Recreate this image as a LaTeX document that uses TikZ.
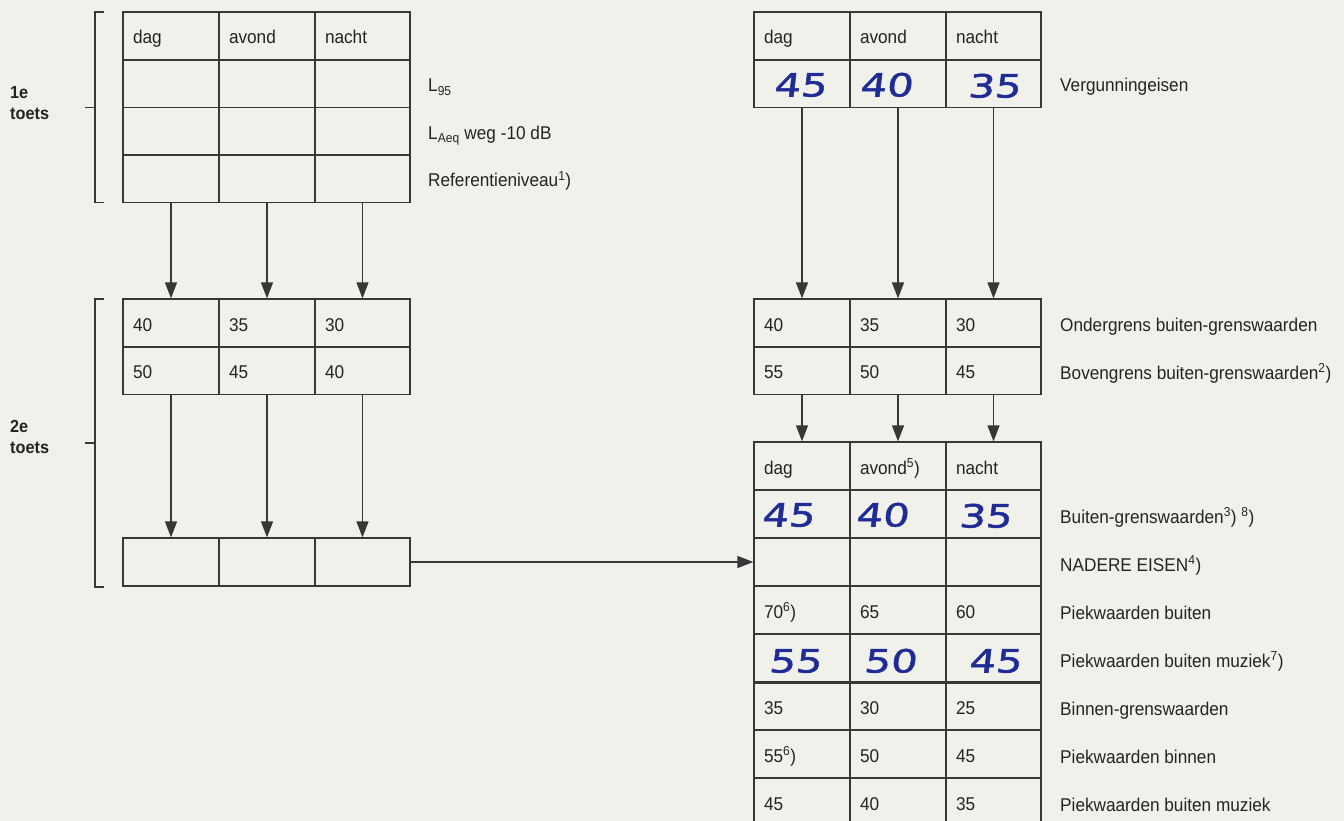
\documentclass[tikz,border=0pt]{standalone}
\usepackage{fontspec}
\usetikzlibrary{arrows.meta}
\newfontfamily\lab{Liberation Sans}[FakeStretch=0.93]
\newfontfamily\hand{DejaVu Sans}[FakeStretch=1.3, FakeSlant=0.12, FakeBold=1.6]
\definecolor{paper}{RGB}{241,241,236}
\definecolor{ink}{RGB}{55,55,55}
\definecolor{txt}{RGB}{35,35,35}
\definecolor{pen}{RGB}{32,44,150}
\tikzset{
  cell/.style={draw=ink, line width=1.2pt, inner xsep=10pt, inner ysep=0pt, align=left,
    font=\lab\fontsize{18.5}{22}\selectfont, text=txt, text height=16pt, text depth=0pt},
  handtxt/.style={font=\hand\fontsize{32}{32}\selectfont, text=pen, inner sep=0pt,
    text height=23pt, text depth=0pt},
  lbl/.style={anchor=base west, inner sep=0pt, font=\lab\fontsize{18.5}{22}\selectfont, text=txt},
  toets/.style={anchor=west, inner sep=0pt, align=left, font=\lab\bfseries\fontsize{17.5}{22}\selectfont, text=txt},
  arr/.style={draw=ink, line width=1.2pt, -{Triangle[length=16pt,width=12pt]}},
  brk/.style={draw=ink, line width=1.2pt}
}
% #1 name prefix, #2 left x, #3 top y, #4 bottom y, #5-#7 texts
\newcommand\mkrow[7]{%
  \pgfmathsetmacro\rh{#4-#3}%
  \pgfmathsetmacro\ym{(#3+#4)/2}%
  \node[cell, minimum width=96pt, text width=76pt, minimum height=\rh pt] (#1-1) at (#2+48,\ym) {#5};
  \node[cell, minimum width=96pt, text width=76pt, minimum height=\rh pt] (#1-2) at (#2+144,\ym) {#6};
  \node[cell, minimum width=95pt, text width=75pt, minimum height=\rh pt] (#1-3) at (#2+239.5,\ym) {#7};
}
\begin{document}
\begin{tikzpicture}[x=1pt,y=-1pt]
\fill[paper] (0,0) rectangle (1344,821);
\useasboundingbox (0,0) rectangle (1344,821);

% ---------- left: 1e toets ----------
\mkrow{T1r1}{123}{12}{60}{dag}{avond}{nacht}
\mkrow{T1r2}{123}{60}{107.5}{}{}{}
\mkrow{T1r3}{123}{107.5}{155}{}{}{}
\mkrow{T1r4}{123}{155}{202.5}{}{}{}

\node[lbl] (l95) at (428,92) {L\textsubscript{95}};
\node[lbl] (laeq) at (428,140) {L\textsubscript{Aeq} weg -10 dB};
\node[lbl] (lref) at (428,187) {Referentieniveau\textsuperscript{1})};

% ---------- left: 2e toets ----------
\mkrow{T2r1}{123}{299}{347}{40}{35}{30}
\mkrow{T2r2}{123}{347}{394.5}{50}{45}{40}
\mkrow{T3r1}{123}{538}{586}{}{}{}

% brackets
\draw[brk] (104,12) -- (95,12) -- (95,202.5) -- (104,202.5);
\draw[brk] (85,107.5) -- (95,107.5);
\draw[brk] (104,299) -- (95,299) -- (95,587) -- (104,587);
\draw[brk] (85,443) -- (95,443);
\node[toets] (t1) at (10,103) {1e\\[-1pt]toets};
\node[toets] (t2) at (10,437) {2e\\[-1pt]toets};

% ---------- right tables ----------
\mkrow{R1r1}{754}{12}{60}{dag}{avond}{nacht}
\mkrow{R1r2}{754}{60}{107.5}{}{}{}
\node[lbl] (vg) at (1060,92) {Vergunningeisen};

\mkrow{R2r1}{754}{299}{347}{40}{35}{30}
\mkrow{R2r2}{754}{347}{394.5}{55}{50}{45}
\node[lbl] (og) at (1060,331) {Ondergrens buiten-grenswaarden};
\node[lbl] (bg) at (1060,379) {Bovengrens buiten-grenswaarden\textsuperscript{2})};

\mkrow{R3r1}{754}{442}{490}{dag}{avond\textsuperscript{5})}{nacht}
\mkrow{R3r2}{754}{490}{538}{}{}{}
\mkrow{R3r3}{754}{538}{586}{}{}{}
\mkrow{R3r4}{754}{586}{634}{70\textsuperscript{6})}{65}{60}
\mkrow{R3r5}{754}{634}{682}{}{}{}
\mkrow{R3r6}{754}{682}{730}{35}{30}{25}
\mkrow{R3r7}{754}{730}{778}{55\textsuperscript{6})}{50}{45}
\mkrow{R3r8}{754}{778}{826}{45}{40}{35}
\draw[ink, line width=2.8pt] (R3r5-1.south west) -- (R3r5-3.south east);

\node[lbl] (bu) at (1060,523) {Buiten-grenswaarden\textsuperscript{3}) \textsuperscript{8})};
\node[lbl] (ne) at (1060,571) {NADERE EISEN\textsuperscript{4})};
\node[lbl] (pb) at (1060,619) {Piekwaarden buiten};
\node[lbl] (pbm) at (1060,667) {Piekwaarden buiten muziek\textsuperscript{7})};
\node[lbl] (bi) at (1060,715) {Binnen-grenswaarden};
\node[lbl] (pbi) at (1060,763) {Piekwaarden binnen};
\node[lbl] (pbm2) at (1060,811) {Piekwaarden buiten muziek};

% handwritten values
\node[handtxt] (h11) at (800,85) {45};
\node[handtxt] (h12) at (886,85) {40};
\node[handtxt] (h13) at (994,86) {35};
\node[handtxt] (h21) at (788,515) {45};
\node[handtxt] (h22) at (882,515) {40};
\node[handtxt] (h23) at (985,516) {35};
\node[handtxt] (h31) at (795,661) {55};
\node[handtxt] (h32) at (890,661) {50};
\node[handtxt] (h33) at (995,661) {45};

% ---------- connectors ----------
\foreach \c in {1,2,3} {
  \draw[arr] (T1r4-\c.south) -- (T2r1-\c.north);
  \draw[arr] (T2r2-\c.south) -- (T3r1-\c.north);
  \draw[arr] (R1r2-\c.south) -- (R2r1-\c.north);
  \draw[arr] (R2r2-\c.south) -- (R3r1-\c.north);
}
\draw[arr] (T3r1-3.east) -- (R3r3-1.west);
\end{tikzpicture}
\end{document}
